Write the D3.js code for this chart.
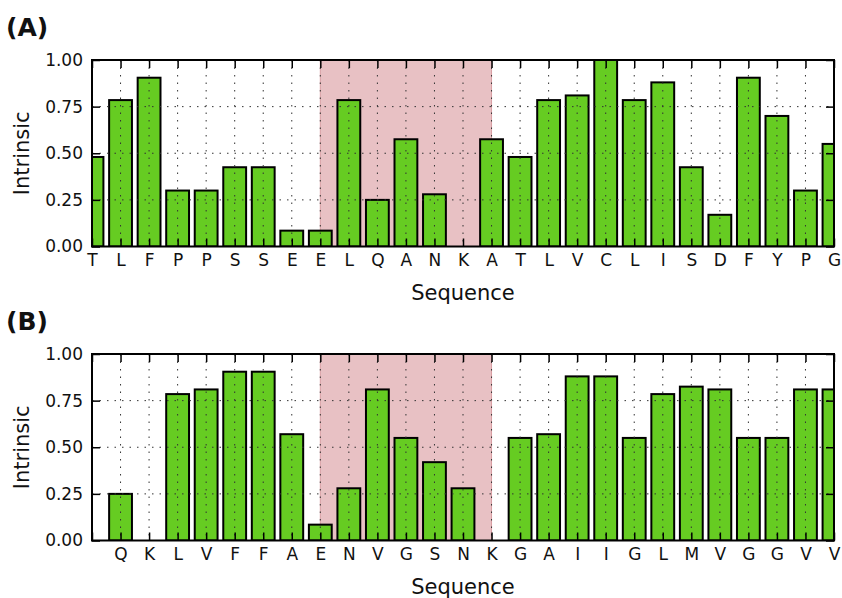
<!DOCTYPE html>
<html>
<head>
<meta charset="utf-8">
<script src="https://cdn.jsdelivr.net/npm/d3@7"></script>
<style>
  body { margin: 0; background: #fff; }
  svg { font-family: "DejaVu Sans", sans-serif; }
</style>
</head>
<body>
<div id="chart"></div>
<script>
// panel A data
const labelsA = ["T","L","F","P","P","S","S","E","E","L","Q","A","N","K","A","T","L","V","C","L","I","S","D","F","Y","P","G"];
const valuesA = [0.48,0.785,0.905,0.30,0.30,0.425,0.425,0.085,0.085,0.785,0.25,0.575,0.28,0,0.575,0.48,0.785,0.81,1.0,0.785,0.88,0.425,0.17,0.905,0.70,0.30,0.55];

// panel B data (first slot has no residue)
const labelsB = ["","Q","K","L","V","F","F","A","E","N","V","G","S","N","K","G","A","I","I","G","L","M","V","G","G","V","V"];
const valuesB = [null,0.25,0,0.785,0.81,0.905,0.905,0.57,0.085,0.28,0.81,0.55,0.42,0.28,0,0.55,0.57,0.88,0.88,0.55,0.785,0.825,0.81,0.55,0.55,0.81,0.81];

const yTicks = [0, 0.25, 0.5, 0.75, 1.0];
const shadeRange = [8, 14];

const width = 842, height = 598;
const svg = d3.select("#chart").append("svg")
    .attr("width", width)
    .attr("height", height);

function panel(id, letter, labels, values, top) {
    const left = 92, right = 834, plotH = 186.5;
    const bottom = top + plotH;
    const g = svg.append("g");

    let x = d3.scaleLinear()
        .domain([0, labels.length - 1])
        .range([left, right]);
    let y = d3.scaleLinear()
        .domain([0, 1])
        .range([bottom, top]);
    const step = x(1) - x(0);
    const bw = step * 0.8;

    g.append("clipPath").attr("id", "clip" + id)
      .append("rect")
        .attr("x", left).attr("y", top)
        .attr("width", right - left).attr("height", plotH);

    const inner = g.append("g").attr("clip-path", `url(#clip${id})`);

    // shaded region
    inner.append("rect")
        .attr("x", x(shadeRange[0]))
        .attr("y", top)
        .attr("width", x(shadeRange[1]) - x(shadeRange[0]))
        .attr("height", plotH)
        .attr("fill", "#e8c1c4")
        .attr("stroke", "#d89ea3")
        .attr("stroke-width", 1);

    // bars
    inner.selectAll("rect.bar")
      .data(values.map((v, i) => ({ v, i })).filter(d => d.v !== null))
      .join("rect")
        .attr("class", "bar")
        .attr("x", d => x(d.i) - bw / 2)
        .attr("y", d => y(d.v))
        .attr("width", bw)
        .attr("height", d => y(0) - y(d.v))
        .attr("fill", "#66cc22")
        .attr("stroke", "#000")
        .attr("stroke-width", 2);

    // dotted grid on top of bars
    inner.selectAll("line.vgrid")
      .data(d3.range(labels.length))
      .join("line")
        .attr("x1", d => x(d)).attr("x2", d => x(d))
        .attr("y1", top).attr("y2", bottom)
        .attr("stroke", "#333").attr("stroke-width", 1)
        .attr("stroke-dasharray", "1.5,6");
    inner.selectAll("line.hgrid")
      .data(yTicks.slice(1, -1))
      .join("line")
        .attr("x1", left).attr("x2", right)
        .attr("y1", d => y(d)).attr("y2", d => y(d))
        .attr("stroke", "#333").attr("stroke-width", 1)
        .attr("stroke-dasharray", "1.5,6");

    // axes with inward ticks
    const ax = g.append("g")
        .attr("transform", `translate(0,${bottom})`)
        .call(d3.axisBottom(x).tickValues(d3.range(labels.length))
            .tickFormat(i => labels[i]).tickSize(-8).tickPadding(7).tickSizeOuter(0));
    const ay = g.append("g")
        .attr("transform", `translate(${left},0)`)
        .call(d3.axisLeft(y).tickValues(yTicks).tickFormat(d3.format(".2f"))
            .tickSize(-8).tickPadding(9).tickSizeOuter(0));
    g.append("g")
        .attr("transform", `translate(0,${top})`)
        .call(d3.axisTop(x).tickValues(d3.range(labels.length))
            .tickFormat("").tickSize(-8).tickSizeOuter(0));
    g.append("g")
        .attr("transform", `translate(${right},0)`)
        .call(d3.axisRight(y).tickValues(yTicks)
            .tickFormat("").tickSize(-8).tickSizeOuter(0));

    g.selectAll(".domain").remove();
    g.selectAll(".tick line").attr("stroke", "#000").attr("stroke-width", 1.5);
    g.selectAll(".tick text")
        .attr("font-family", "DejaVu Sans")
        .attr("font-size", 17)
        .attr("fill", "#111");

    // frame
    g.append("rect")
        .attr("x", left).attr("y", top)
        .attr("width", right - left).attr("height", plotH)
        .attr("fill", "none")
        .attr("stroke", "#000")
        .attr("stroke-width", 2);

    // labels
    g.append("text")
        .attr("transform", `translate(29,${(top + bottom) / 2}) rotate(-90)`)
        .attr("text-anchor", "middle")
        .attr("font-size", 21)
        .attr("fill", "#111")
        .text("Intrinsic");
    g.append("text")
        .attr("x", (left + right) / 2)
        .attr("y", bottom + 53)
        .attr("text-anchor", "middle")
        .attr("font-size", 21)
        .attr("fill", "#111")
        .text("Sequence");
    g.append("text")
        .attr("x", 6)
        .attr("y", top - 24)
        .attr("font-size", 25)
        .attr("font-weight", "bold")
        .attr("fill", "#111")
        .text(letter);
}

panel("A", "(A)", labelsA, valuesA, 60);
panel("B", "(B)", labelsB, valuesB, 354);
</script>
</body>
</html>
